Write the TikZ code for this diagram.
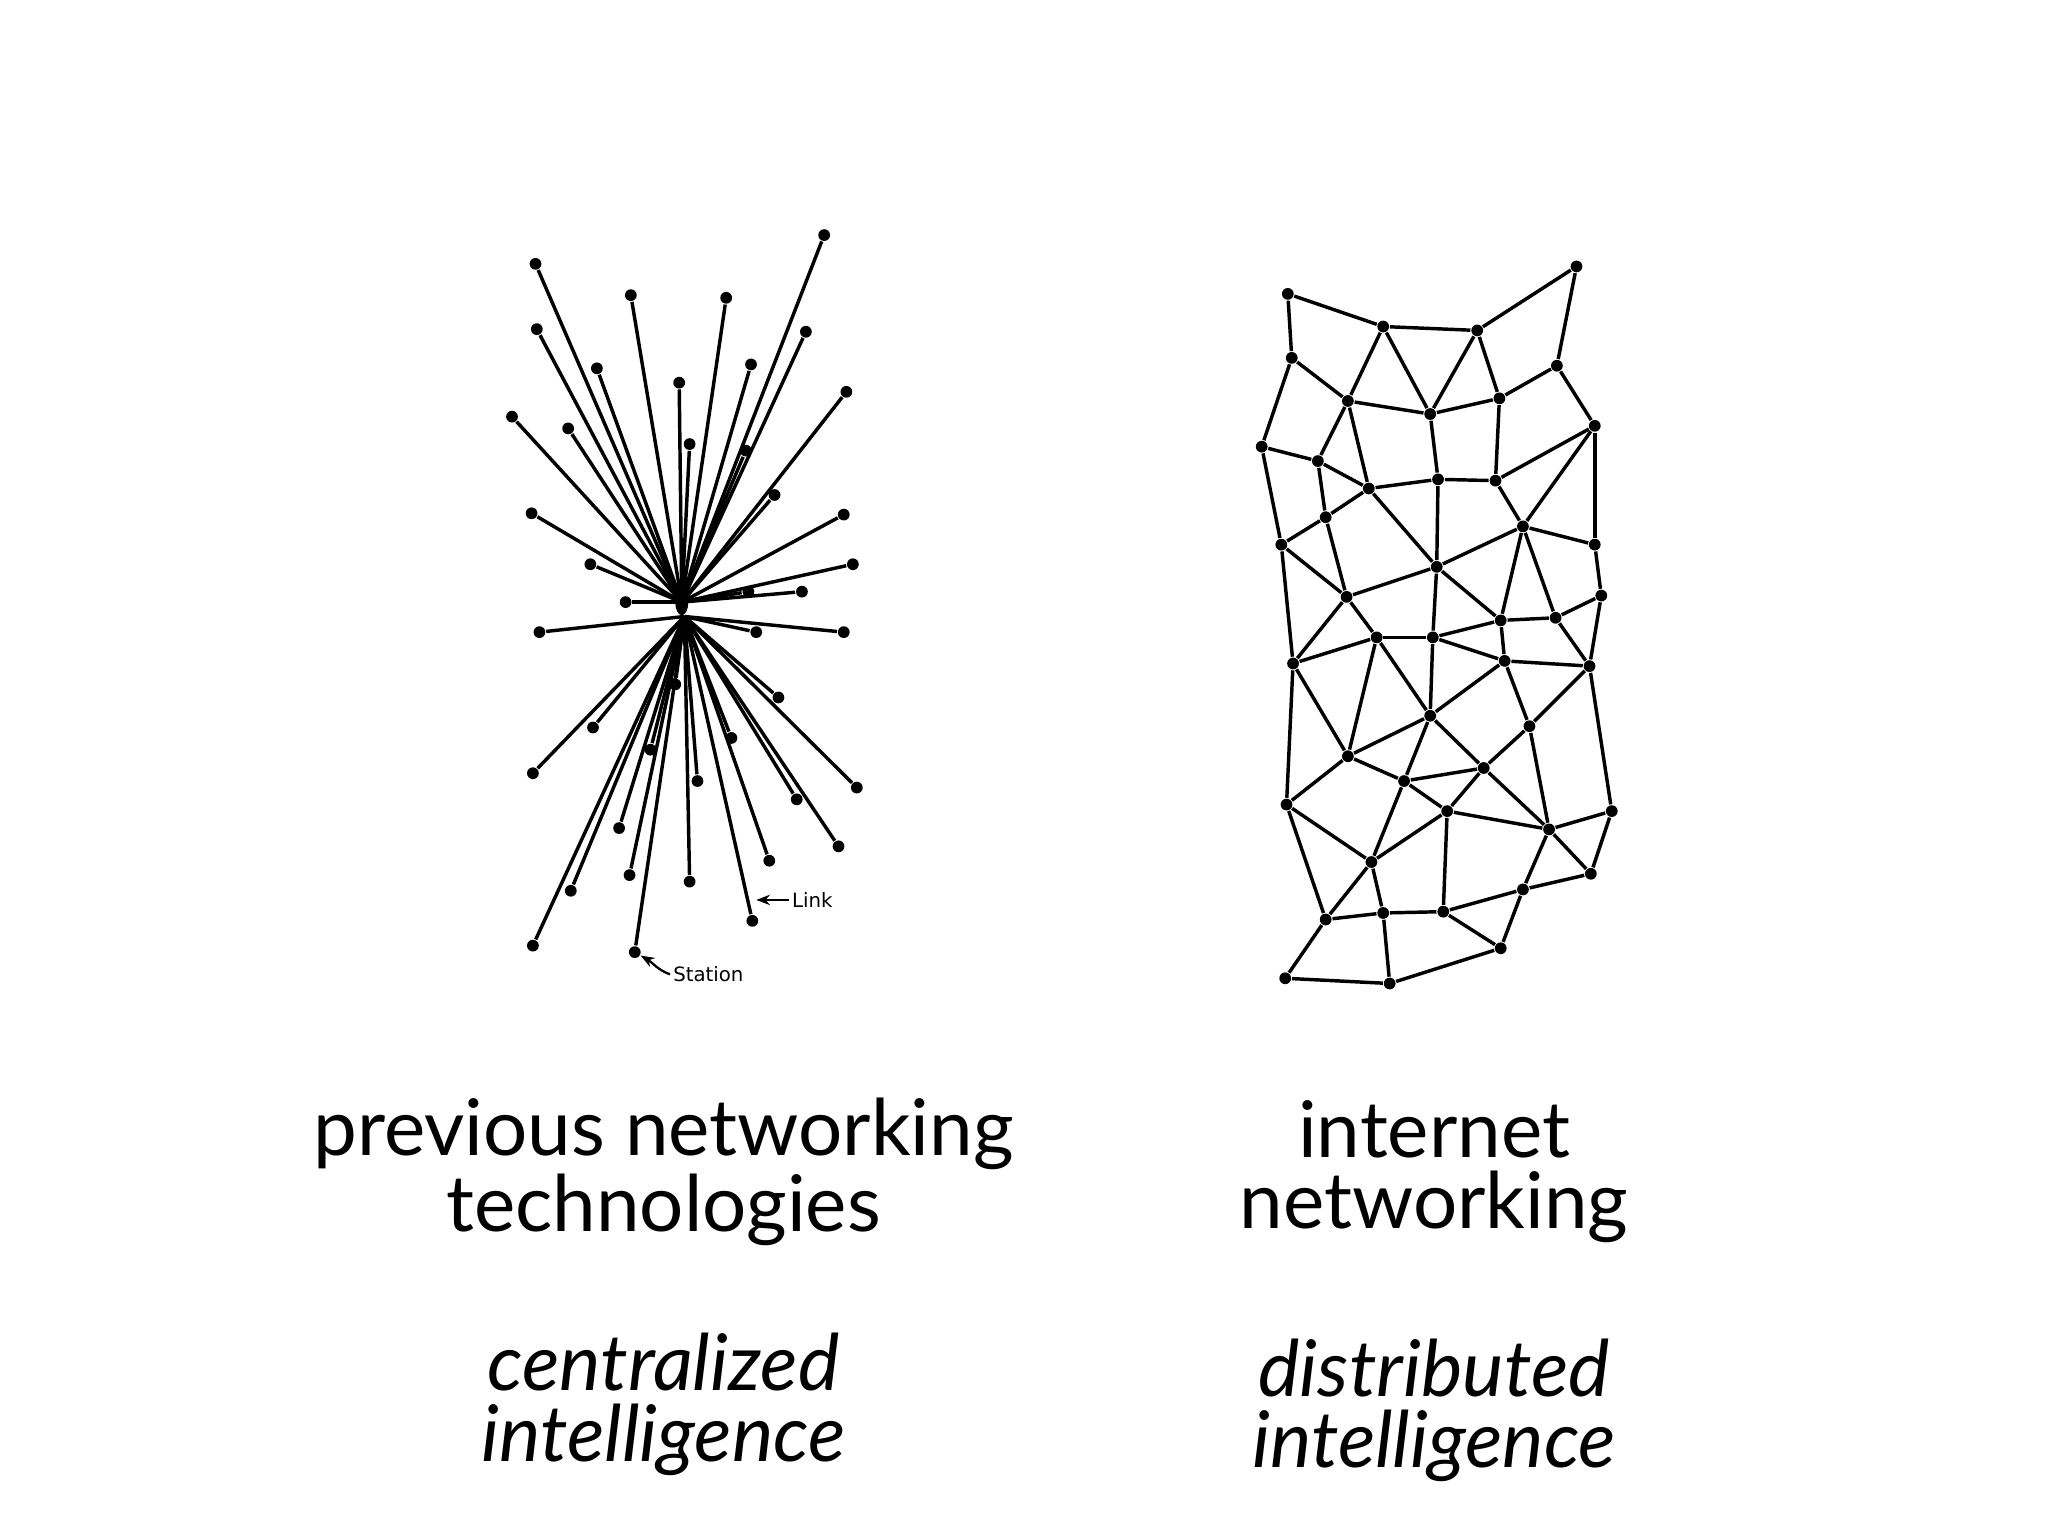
\documentclass[tikz,border=0pt]{standalone}
\usepackage{fontspec}
\setmainfont{Lato}
\newfontfamily\lblfont{DejaVu Sans}
\usetikzlibrary{arrows.meta}
\begin{document}
\begin{tikzpicture}[x=0.01cm,y=-0.01cm,
  sdot/.style={circle,fill=black,inner sep=0pt,minimum size=0.09cm},
  edge/.style={line width=0.75pt},
  lbl/.style={font=\lblfont\fontsize{4.3}{5}\selectfont,anchor=west,inner sep=0.5pt},
  big/.style={font=\fontsize{17}{15.5}\selectfont,align=center},
  bigit/.style={font=\fontsize{17}{15.5}\selectfont\itshape,align=center}]
\useasboundingbox (0,0) rectangle (1568,1176);
% star
\coordinate (c1) at (522,461);
\coordinate (c2) at (524,472);
\foreach \p [count=\i] in {(410,202),(483,226),(556,228),(631,180),(411,252),(457,282),(520,293),(575,279),(617,254),(648,300),(392,319),(435,328),(528,340),(571,345),(593,379),(407,393),(646,394),(452,432),(653,432),(479,461),(573,453),(614,453)}{
  \node[sdot] (s\i) at \p {};
  \draw[edge] (c1) -- (s\i);
}
\foreach \p [count=\i] in {(413,484),(579,484),(646,484),(517,524),(596,534),(454,557),(560,565),(498,574),(534,598),(408,592),(656,603),(474,634),(610,612),(642,648),(482,670),(528,675),(589,659),(437,682),(576,705),(408,724),(486,729)}{
  \node[sdot] (t\i) at \p {};
  \draw[edge] (c2) -- (t\i);
}
\fill (c1) ellipse (5 and 10);
\coordinate (lk) at (579,689);
\node[lbl] (link) at (604,689) {Link};
\draw[-{Stealth[length=3pt]},line width=0.5pt] (link.west) -- (lk);
\node[lbl] (stn) at (513,746) {Station};
\draw[-{Stealth[length=3pt]},line width=0.5pt] (stn.west) to[out=160,in=-30] (t21);
% mesh
\foreach \n/\px/\py in {a/986/225,b/1059/250,c/1131/253,d/1207/204,e/989/274,f/1192/280,g/1032/307,h/1095/317,i/1148/305,j/1221/326,k/966/342,l/1009/353,m/1048/374,n/1101/367,o/1145/368,p/1015/396,q/1166/403,r/981/417,s/1221/417,t/1100/434,u/1031/457,v/1226/456,w/1149/475,x/1191/473,
C/1054/488,D/1097/488,E/990/508,F/1152/506,G/1217/510,H/1095/548,I/1171/556,J/1032/579,K/1136/588,L/1075/598,M/985/616,N/1108/621,O/1234/621,P/1186/635,Q/1050/660,R/1218/669,S/1166/681,T/1015/704,U/1059/699,V/1105/698,W/1149/726,X/984/749,Y/1064/753}{
  \node[sdot] (\n) at (\px,\py) {};
}
\foreach \a/\b in {a/b,b/c,c/d,d/f,a/e,b/g,b/h,c/h,c/i,f/i,f/j,e/g,e/k,g/h,h/i,g/l,g/m,h/n,i/o,k/l,k/r,l/m,l/p,m/n,n/o,o/j,m/t,n/t,o/q,j/q,j/s,p/m,p/r,p/u,r/u,q/s,q/t,t/u,q/w,q/x,t/w,s/v,v/x,w/x,
r/E,u/E,u/C,t/D,w/D,x/G,v/G,w/F,C/D,C/E,C/J,C/H,D/H,D/F,F/G,F/H,F/I,G/I,G/O,E/J,E/M,H/J,H/L,H/K,I/K,I/P,J/L,J/M,K/L,K/N,K/P,L/N,L/Q,M/Q,M/T,N/Q,N/V,N/P,P/O,P/R,P/S,O/R,Q/T,Q/U,T/U,U/V,V/S,S/R,S/W,V/W,T/X,U/Y,X/Y,Y/W}{
  \draw[edge] (\a) -- (\b);
}
% texts
\node[big] (l1) at (508,897) {previous networking\\technologies};
\node[big] (r1) at (1098,897) {internet\\networking};
\node[bigit] (l2) at (508,1075) {centralized\\intelligence};
\node[bigit] (r2) at (1098,1080) {distributed\\intelligence};
\end{tikzpicture}
\end{document}
